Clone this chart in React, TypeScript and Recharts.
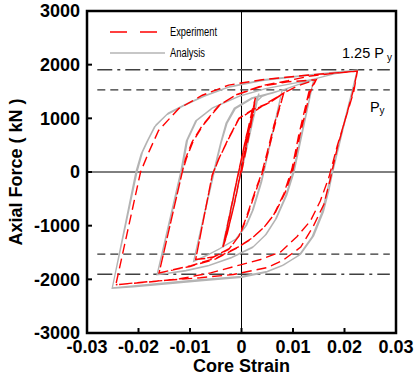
import React from 'react';
import { LineChart, Line, XAxis, YAxis, ReferenceLine, ReferenceArea } from 'recharts';

type P = [number, number];

// ---- Axis ticks ----
const strainTicks = [-0.03, -0.02, -0.01, 0, 0.01, 0.02, 0.03];
const forceTicks = [-3000, -2000, -1000, 0, 1000, 2000, 3000];

// ---- Yield levels (kN) ----
const Py = 1530;
const Py125 = 1905;
const levelStart = -0.028;
const levelEnd = 0.0288;

// ---- Series names ----
const seriesNames = ['Experiment', 'Analysis'];

// ---- Analysis (gray), [strain, force kN] ----
const anaLoop1: P[] = [
  [0, 0], [0.0020, 860], [0.0028, 1200], [0.0032, 1390], [0.0034, 1460],
  [0.0030, 1320], [0.0010, 480], [-0.0010, -400], [-0.0028, -1130], [-0.0034, -1330], [-0.0037, -1390],
  [-0.0033, -1250], [-0.0005, 0], [0.0020, 1060], [0.0030, 1380], [0.0034, 1460],
  [0.0031, 1350], [0.0008, 380], [-0.0012, -490], [-0.0029, -1170], [-0.0035, -1350], [-0.0037, -1390],
];
const anaLoop2: P[] = [
  [-0.0005, 0], [0.0022, 1130], [0.0028, 1300], [0.0040, 1410], [0.0060, 1480], [0.0079, 1530],
  [0.0044, 40], [0.0037, -210], [0.0030, -430], [0.0021, -720], [0.0008, -1010], [-0.0012, -1260], [-0.0044, -1440], [-0.0070, -1570], [-0.0093, -1665],
  [-0.0053, 0], [-0.0046, 280], [-0.0039, 560], [-0.0028, 910], [-0.0012, 1180], [0.0021, 1370], [0.0060, 1470], [0.0079, 1530],
  [0.0045, 60], [0.0039, -190], [0.0032, -410], [0.0023, -700], [0.0010, -990], [-0.0010, -1245], [-0.0042, -1425], [-0.0068, -1555], [-0.0093, -1665],
];
const anaLoop3: P[] = [
  [-0.0054, 0], [-0.0047, 290], [-0.0040, 560], [-0.0030, 910], [-0.0014, 1190], [0.0020, 1380], [0.0060, 1480], [0.0085, 1545], [0.0110, 1630], [0.0140, 1715],
  [0.0100, 0], [0.0086, -440], [0.0066, -880], [0.0046, -1180], [0.0021, -1410], [-0.0020, -1600], [-0.0065, -1750], [-0.0110, -1845], [-0.0164, -1915],
  [-0.0116, 0], [-0.0105, 590], [-0.0087, 960], [-0.0055, 1200], [-0.0003, 1420], [0.0049, 1560], [0.0100, 1650], [0.0140, 1715],
  [0.0102, 0], [0.0088, -430], [0.0068, -860], [0.0048, -1160], [0.0023, -1390], [-0.0018, -1585], [-0.0063, -1740], [-0.0108, -1835], [-0.0164, -1915],
];
const anaLoop4: P[] = [
  [-0.0118, 0], [-0.0107, 580], [-0.0089, 950], [-0.0057, 1190], [-0.0005, 1410], [0.0047, 1555], [0.0098, 1645], [0.0140, 1730], [0.0180, 1830], [0.0225, 1900],
  [0.0177, 0], [0.0170, -330], [0.0159, -740], [0.0140, -1190], [0.0115, -1530], [0.0082, -1730], [0.0050, -1850], [0, -1945], [-0.0080, -2005], [-0.0144, -2060], [-0.0210, -2120], [-0.0251, -2160],
  [-0.0203, 0], [-0.0192, 380], [-0.0181, 600], [-0.0166, 880], [-0.0142, 1100], [-0.0109, 1260], [-0.0070, 1430], [-0.0023, 1590], [0.0043, 1720], [0.0140, 1820], [0.0225, 1900],
  [0.0175, 0], [0.0167, -330], [0.0156, -760], [0.0137, -1210], [0.0112, -1550], [0.0079, -1745], [0.0047, -1870], [0, -1965], [-0.0080, -2030], [-0.0144, -2085], [-0.0210, -2140], [-0.0251, -2165],
  [-0.0205, 0], [-0.0195, 330], [-0.0184, 560], [-0.0169, 840], [-0.0145, 1070], [-0.0112, 1235], [-0.0073, 1410], [-0.0026, 1575], [0.0040, 1705], [0.0137, 1810], [0.0225, 1900],
];

// ---- Experiment (red dashed), [strain, force kN] ----
const expLoop1: P[] = [
  [0, 0], [0.0015, 700], [0.0024, 1180], [0.0027, 1380],
  [0.0022, 1150], [0.0005, 300], [-0.0012, -520], [-0.0028, -1150], [-0.0036, -1400],
  [-0.0030, -1150], [-0.0010, -200], [0.0008, 600], [0.0022, 1200], [0.0027, 1380],
  [0.0021, 1100], [0.0003, 220], [-0.0014, -600], [-0.0029, -1200], [-0.0036, -1400],
];
const expLoop2: P[] = [
  [-0.0008, -100], [0.0010, 700], [0.0025, 1130], [0.0050, 1290], [0.0082, 1470],
  [0.0063, 870], [0.0050, 370], [0.0040, 0], [0.0030, -260], [0.0021, -510], [0.0008, -880], [-0.0005, -1195], [-0.0025, -1445], [-0.0057, -1600], [-0.0089, -1630],
  [-0.0057, -70], [-0.0044, 244], [-0.0025, 620], [-0.0005, 990], [0.0021, 1150], [0.0053, 1280], [0.0082, 1470],
  [0.0065, 880], [0.0052, 390], [0.0042, 20], [0.0032, -240], [0.0023, -490], [0.0010, -860], [-0.0003, -1170], [-0.0023, -1425], [-0.0055, -1585], [-0.0089, -1630],
];
const expLoop3: P[] = [
  [-0.0057, -60], [-0.0044, 250], [-0.0025, 630], [-0.0005, 1000], [0.0021, 1160], [0.0053, 1290], [0.0082, 1470], [0.0110, 1610], [0.0145, 1720],
  [0.0131, 1495], [0.0111, 680], [0.0098, 60], [0.0082, -410], [0.0063, -790], [0.0043, -1040], [0.0017, -1260], [-0.0008, -1410], [-0.0050, -1620], [-0.0100, -1760], [-0.0160, -1880],
  [-0.0115, 0], [-0.0109, 240], [-0.0096, 560], [-0.0076, 870], [-0.0044, 1240], [-0.0012, 1430], [0.0040, 1600], [0.0090, 1680], [0.0145, 1720],
  [0.0133, 1480], [0.0113, 660], [0.0100, 40], [0.0084, -400], [0.0065, -770], [0.0045, -1020], [0.0019, -1240], [-0.0006, -1395], [-0.0048, -1600], [-0.0098, -1745], [-0.0160, -1880],
];
const expLoop4: P[] = [
  [-0.0115, 0], [-0.0107, 250], [-0.0094, 570], [-0.0074, 880], [-0.0042, 1250], [-0.0010, 1440], [0.0040, 1610], [0.0090, 1700], [0.0134, 1790], [0.0180, 1840], [0.0225, 1880],
  [0.0218, 1500], [0.0186, 490], [0.0170, -90], [0.0153, -540], [0.0134, -910], [0.0108, -1200], [0.0076, -1490], [0.0037, -1630], [-0.0002, -1730], [-0.0060, -1880], [-0.0120, -1990], [-0.0180, -2050], [-0.0244, -2100],
  [-0.0196, 0], [-0.0180, 370], [-0.0161, 775], [-0.0122, 1180], [-0.0076, 1430], [-0.0025, 1620], [0.0040, 1720], [0.0134, 1810], [0.0225, 1880],
  [0.0216, 1480], [0.0186, 450], [0.0172, -150], [0.0160, -600], [0.0140, -1000], [0.0115, -1400], [0.0080, -1650], [0.0050, -1780], [-0.0016, -1910], [-0.0080, -1970], [-0.0177, -2040], [-0.0244, -2100],
];

const toPts = (arr: P[]) => arr.map(([e, f]) => ({ e, f }));
const analysisData = toPts([...anaLoop1, ...anaLoop2, ...anaLoop3, ...anaLoop4]);
const experimentData = toPts([...expLoop1, ...expLoop2, ...expLoop3, ...expLoop4]);

const FONT = "'Liberation Sans', Arial, Helvetica, sans-serif";
const RED = '#ff0000';
const GRAY = '#b4b4b4';

const tickStyle = { fontSize: 18, fontWeight: 700, fill: '#000', fontFamily: FONT };

export default function App() {
  return (
    <div style={{ position: 'absolute', left: 0, top: 0, width: 415, height: 383, background: '#fff' }}>
      <LineChart width={415} height={383} margin={{ top: 11, right: 19, bottom: 0, left: 0 }}>
        <XAxis
          dataKey="e"
          type="number"
          domain={[-0.03, 0.03]}
          ticks={strainTicks}
          interval={0}
          allowDataOverflow
          height={50}
          axisLine={false}
          tickSize={-5}
          tickMargin={12}
          tickLine={{ stroke: '#000', strokeWidth: 2 }}
          tick={tickStyle}
          tickFormatter={(v: number) => String(v)}
        />
        <YAxis
          dataKey="f"
          type="number"
          domain={[-3000, 3000]}
          ticks={forceTicks}
          interval={0}
          allowDataOverflow
          width={87}
          axisLine={false}
          tickSize={-5}
          tickMargin={12}
          tickLine={{ stroke: '#000', strokeWidth: 2 }}
          tick={tickStyle}
        />
        <ReferenceLine x={0} stroke="#000" strokeWidth={1} />
        <ReferenceLine y={0} stroke="#000" strokeWidth={1} />
        <ReferenceLine
          segment={[{ x: levelStart, y: Py125 }, { x: levelEnd, y: Py125 }]}
          stroke="#404040" strokeWidth={1.6} strokeDasharray="15 5 3 5"
        />
        <ReferenceLine
          segment={[{ x: levelStart, y: -Py125 }, { x: levelEnd, y: -Py125 }]}
          stroke="#404040" strokeWidth={1.6} strokeDasharray="15 5 3 5"
        />
        <ReferenceLine
          segment={[{ x: levelStart, y: Py }, { x: levelEnd, y: Py }]}
          stroke="#333" strokeWidth={1.4} strokeDasharray="8 5"
        />
        <ReferenceLine
          segment={[{ x: levelStart, y: -Py }, { x: levelEnd, y: -Py }]}
          stroke="#333" strokeWidth={1.4} strokeDasharray="8 5"
        />
        <Line
          name={seriesNames[1]}
          data={analysisData}
          dataKey="f"
          type="linear"
          stroke={GRAY}
          strokeWidth={1.3}
          dot={false}
          activeDot={false}
          isAnimationActive={false}
        />
        <Line
          name={seriesNames[0]}
          data={experimentData}
          dataKey="f"
          type="linear"
          stroke={RED}
          strokeWidth={1.4}
          strokeDasharray="10 5"
          dot={false}
          activeDot={false}
          isAnimationActive={false}
        />
        <ReferenceArea
          x1={-0.03} x2={0.03} y1={-3000} y2={3000}
          fill="none" fillOpacity={0} stroke="#000" strokeWidth={2.5}
        />
      </LineChart>
      <svg
        width={415}
        height={383}
        style={{ position: 'absolute', left: 0, top: 0, pointerEvents: 'none' }}
      >
        {/* Legend */}
        <line x1={110} y1={32} x2={158} y2={32} stroke={RED} strokeWidth={1.5} strokeDasharray="17 13" />
        <text x={170} y={36} fontFamily={FONT} fontSize={12} fill="#000" textLength={47} lengthAdjust="spacingAndGlyphs">
          {seriesNames[0]}
        </text>
        <line x1={110} y1={53} x2={165} y2={53} stroke={GRAY} strokeWidth={1.3} />
        <text x={170} y={57} fontFamily={FONT} fontSize={12} fill="#000" textLength={35} lengthAdjust="spacingAndGlyphs">
          {seriesNames[1]}
        </text>
        {/* Level labels */}
        <text x={342} y={58} fontFamily={FONT} fontSize={14.5} fill="#000">1.25 P</text>
        <text x={387} y={60.5} fontFamily={FONT} fontSize={10} fill="#000">y</text>
        <text x={370} y={111.5} fontFamily={FONT} fontSize={14.5} fill="#000">P</text>
        <text x={379.5} y={114} fontFamily={FONT} fontSize={10} fill="#000">y</text>
        {/* Axis titles */}
        <text x={241.5} y={371.5} textAnchor="middle" fontFamily={FONT} fontSize={18} fontWeight={700} fill="#000">
          Core Strain
        </text>
        <text
          x={21.5}
          y={172}
          textAnchor="middle"
          fontFamily={FONT}
          fontSize={18}
          fontWeight={700}
          fill="#000"
          transform="rotate(-90, 21.5, 172)"
        >
          Axial Force ( kN )
        </text>
      </svg>
    </div>
  );
}
